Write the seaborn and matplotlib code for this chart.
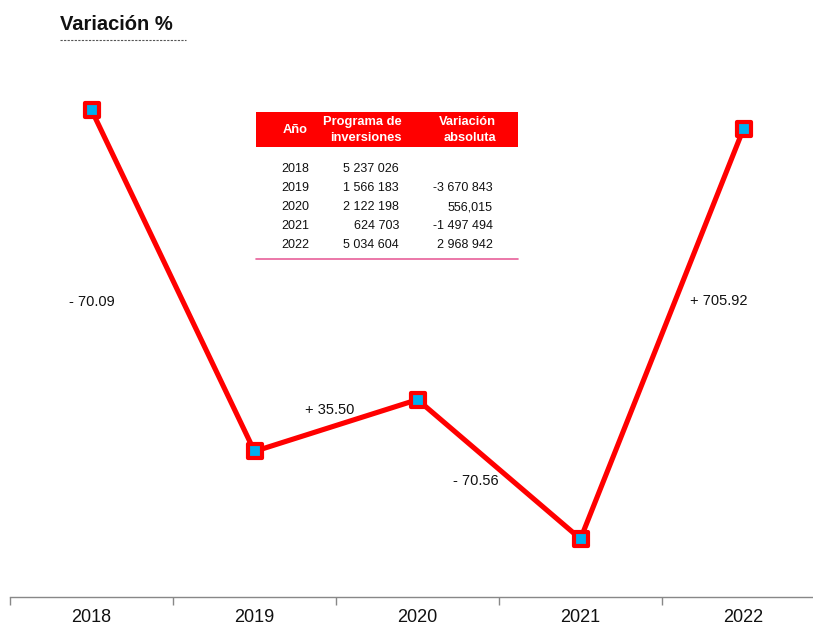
import numpy as np
import pandas as pd
import matplotlib
matplotlib.use("Agg")
import matplotlib.pyplot as plt
import matplotlib.transforms as mtransforms
from matplotlib.markers import MarkerStyle
from matplotlib.patches import Rectangle
from matplotlib.lines import Line2D
import seaborn as sns

# Data
years = ["2018", "2019", "2020", "2021", "2022"]
programa = [5237026, 1566183, 2122198, 624703, 5034604]
var_absoluta = ["", "-3 670 843", "556,015", "-1 497 494", "2 968 942"]

sns.set_theme(style="white")
plt.rcParams["font.family"] = ["Liberation Sans", "DejaVu Sans"]

df = pd.DataFrame({"pos": np.arange(len(years)), "Año": years, "Programa": programa})

W, H = 813, 628
fig = plt.figure(figsize=(W / 100, H / 100), dpi=100)
# axes: x from 10 px to 825 px (last category runs past the right edge), y from 597 px (zero) to 39 px
ax = fig.add_axes([10 / W, (H - 597) / H, 815 / W, (597 - 39) / H])

RED = "#FF0000"
BLUE = "#00B0F0"
sns.lineplot(data=df, x="pos", y="Programa", ax=ax, color=RED, linewidth=3.7,
             marker=MarkerStyle("s", joinstyle="round"), markersize=9.6,
             markerfacecolor=BLUE, markeredgecolor=RED,
             markeredgewidth=3.0, sort=False, legend=False)

ax.set_xlim(-0.5, len(years) - 0.5)
ax.set_ylim(0, 6_000_000)
ax.set_xlabel("")
ax.set_ylabel("")
ax.set_yticks([])
ax.set_xticks(df["pos"])
ax.set_xticklabels(years, fontsize=13, color="#111111")
ax.set_xticks(np.arange(-0.5, len(years), 1.0), minor=True)
ax.tick_params(axis="x", which="major", length=0, pad=9)
ax.tick_params(axis="x", which="minor", length=6, width=1, color="#888888", bottom=True)
for side in ("top", "right", "left"):
    ax.spines[side].set_visible(False)
ax.spines["bottom"].set_color("#888888")
ax.spines["bottom"].set_linewidth(1.0)

# percentage change labels between consecutive years
pct = [(programa[i + 1] - programa[i]) / programa[i] * 100 for i in range(len(programa) - 1)]
label_pos = [(0.0, 0.529), (1.46, 0.335), (2.36, 0.208), (3.85, 0.530)]
trans = mtransforms.blended_transform_factory(ax.transData, ax.transAxes)
for p, (lx, ly) in zip(pct, label_pos):
    sign = "+" if p >= 0 else "-"
    ax.text(lx, ly, f"{sign} {abs(p):.2f}", transform=trans, ha="center", va="center",
            fontsize=10.5, color="#111111")

# Title with dashed underline
fig.text(60 / W, 1 - 25 / H, "Variación %", ha="left", va="center", fontsize=14.5,
         fontweight="bold", family=["Liberation Sans Narrow", "Liberation Sans"], color="#111111")
fig.add_artist(Line2D([60 / W, 186 / W], [1 - 40 / H, 1 - 40 / H], transform=fig.transFigure,
                      color="#555555", linewidth=0.8, linestyle=(0, (2, 1.2))))

# Table of investment programme
def fx(px):
    return px / W

def fy(py):
    return 1 - py / H

fig.add_artist(Rectangle((fx(256), fy(147)), fx(518) - fx(256), fy(112) - fy(147),
                         transform=fig.transFigure, facecolor="#FF0000", edgecolor="none"))
hdr_kw = dict(ha="right", va="center", fontsize=9.3, fontweight="bold", color="white",
              linespacing=1.45)
fig.text(fx(308), fy(130), "Año", **hdr_kw)
fig.text(fx(402), fy(130), "Programa de\ninversiones", **hdr_kw)
fig.text(fx(496), fy(130), "Variación\nabsoluta", **hdr_kw)

row_y = [169, 188, 207, 226.5, 245.5]
for yr, val, dv, ry in zip(years, programa, var_absoluta, row_y):
    fig.text(fx(309), fy(ry), yr, ha="right", va="center", fontsize=9, color="#111111")
    fig.text(fx(399), fy(ry), f"{val:,}".replace(",", " "), ha="right", va="center",
             fontsize=9, color="#111111")
    if dv:
        fig.text(fx(493), fy(ry), dv, ha="right", va="center", fontsize=9, color="#111111")

fig.add_artist(Line2D([fx(256), fx(518)], [fy(259), fy(259)], transform=fig.transFigure,
                      color="#E8609A", linewidth=1.2))

fig.savefig("out.png", dpi=100, facecolor="white")
